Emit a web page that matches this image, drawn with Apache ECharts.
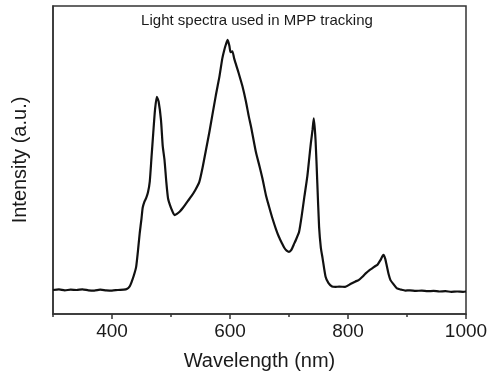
<!DOCTYPE html>
<html>
<head>
<meta charset="utf-8">
<script src="https://cdn.jsdelivr.net/npm/echarts@6/dist/echarts.min.js"></script>
<style>
  html, body { margin: 0; padding: 0; background: #fff; }
  #chart { width: 494px; height: 383px; }
</style>
</head>
<body>
<div id="chart"></div>
<script>
// Emission spectrum of the light source (wavelength in nm, intensity in a.u.)
const wavelengths = [
  300, 310, 320, 330, 340, 350, 360, 370, 380, 390, 400, 410, 420, 425, 430, 433, 437, 441, 444, 447,
  450, 452, 455, 458, 461, 464, 467, 470, 473, 476, 479, 483, 486, 489, 492, 495, 498, 502, 506, 510,
  515, 520, 526, 534, 541, 548, 554, 559, 565, 570, 576, 582, 587, 590, 593, 596, 599, 601, 604, 607,
  611, 615, 621, 627, 632, 636, 644, 650, 655, 661, 666, 672, 678, 683, 688, 692, 696, 700, 704, 708,
  712, 717, 722, 726, 731, 734, 737, 740, 742, 745, 748, 751, 754, 757, 762, 767, 773, 779, 785, 795,
  805, 812, 818, 824, 830, 836, 841, 846, 850, 855, 860, 863, 866, 869, 872, 877, 883, 890, 897, 905,
  915, 925, 935, 945, 955, 965, 975, 985, 995, 1000
];
const intensity = [
  0.078, 0.080, 0.077, 0.079, 0.078, 0.080, 0.077, 0.076, 0.079, 0.077, 0.076, 0.078, 0.079, 0.081, 0.090, 0.103, 0.125, 0.154, 0.205, 0.263,
  0.310, 0.345, 0.365, 0.377, 0.395, 0.430, 0.510, 0.590, 0.665, 0.705, 0.690, 0.630, 0.545, 0.500, 0.430, 0.375, 0.355, 0.335, 0.321, 0.325,
  0.333, 0.344, 0.360, 0.381, 0.402, 0.429, 0.480, 0.530, 0.590, 0.645, 0.710, 0.770, 0.830, 0.855, 0.875, 0.890, 0.870, 0.850, 0.853, 0.830,
  0.805, 0.780, 0.740, 0.690, 0.640, 0.605, 0.525, 0.480, 0.440, 0.385, 0.350, 0.310, 0.275, 0.250, 0.230, 0.215, 0.206, 0.202, 0.208, 0.225,
  0.242, 0.266, 0.325, 0.380, 0.446, 0.500, 0.554, 0.600, 0.635, 0.565, 0.425, 0.283, 0.215, 0.180, 0.121, 0.100, 0.089, 0.088, 0.089, 0.088,
  0.098, 0.105, 0.110, 0.120, 0.132, 0.142, 0.148, 0.155, 0.160, 0.175, 0.192, 0.180, 0.154, 0.128, 0.110, 0.097, 0.083, 0.079, 0.076, 0.077,
  0.075, 0.076, 0.074, 0.075, 0.073, 0.074, 0.072, 0.073, 0.072, 0.073
];
const majorTicks = [400, 600, 800, 1000];
const minorTicks = [300, 500, 700, 900];
const titleText = 'Light spectra used in MPP tracking';

const FONT = '"Liberation Sans", Arial, sans-serif';
const INK = '#1a1a1a';

const chart = echarts.init(document.getElementById('chart'), null, { renderer: 'canvas' });

const points = wavelengths.map((w, i) => [w, intensity[i]]);

chart.setOption({
  animation: false,
  backgroundColor: '#fff',
  grid: {
    left: 53, right: 28, top: 6, bottom: 69,
    show: true, borderColor: '#333', borderWidth: 1.5, backgroundColor: 'transparent'
  },
  graphic: [{
    type: 'text',
    x: 257, y: 21,
    style: {
      text: titleText,
      font: '15px ' + FONT,
      fill: INK,
      textAlign: 'center',
      textVerticalAlign: 'middle'
    }
  }],
  xAxis: [{
    type: 'value',
    min: 300, max: 1000, interval: 100,
    name: 'Wavelength (nm)',
    nameLocation: 'middle',
    nameGap: 37,
    nameTextStyle: { fontFamily: FONT, fontSize: 20, color: INK },
    axisLine: { show: true, lineStyle: { color: '#333', width: 1.5 } },
    axisTick: { show: true, inside: false, length: 5, customValues: majorTicks, lineStyle: { color: '#333', width: 1.5 } },
    axisLabel: {
      show: true, margin: 8, customValues: majorTicks,
      formatter: v => String(v),
      fontFamily: FONT, fontSize: 19, color: INK
    },
    splitLine: { show: false }
  }, {
    type: 'value',
    min: 300, max: 1000, interval: 100,
    position: 'bottom',
    axisLine: { show: false },
    axisTick: { show: true, inside: false, length: 3, customValues: minorTicks, lineStyle: { color: '#333', width: 1.5 } },
    axisLabel: { show: false },
    splitLine: { show: false }
  }],
  yAxis: {
    type: 'value',
    min: 0, max: 1,
    name: 'Intensity (a.u.)',
    nameLocation: 'middle',
    nameGap: 23,
    nameRotate: 90,
    nameTextStyle: { fontFamily: FONT, fontSize: 20, color: INK },
    axisLine: { show: true, lineStyle: { color: '#333', width: 1.5 } },
    axisTick: { show: false },
    axisLabel: { show: false },
    splitLine: { show: false }
  },
  series: [{
    type: 'line',
    data: points,
    showSymbol: false,
    smooth: 0.2,
    lineStyle: { color: '#111', width: 2.2 }
  }]
});
</script>
</body>
</html>
